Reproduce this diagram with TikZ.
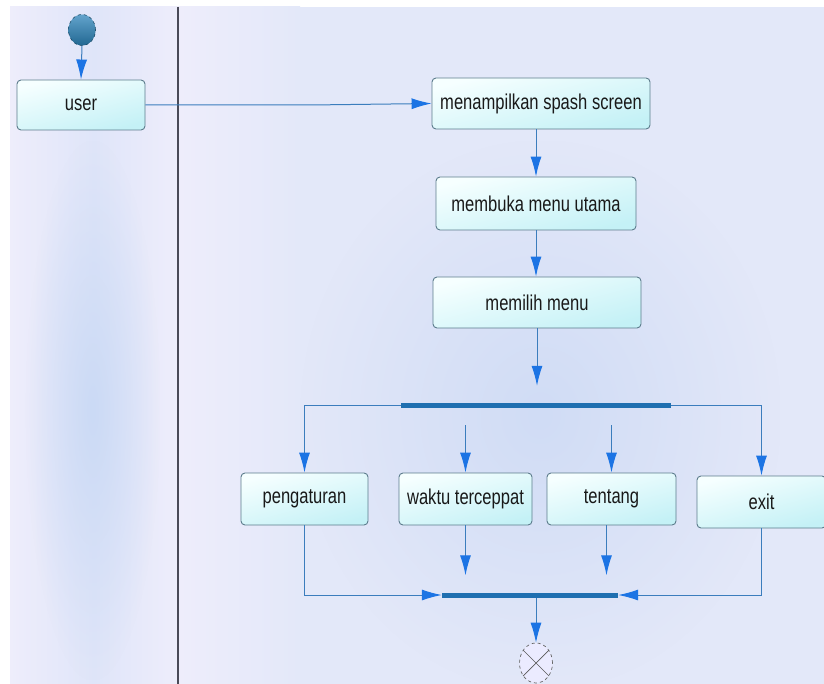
\documentclass[tikz,border=0pt]{standalone}
\usepackage{fontspec}
\setmainfont[FakeStretch=0.77]{Liberation Sans}
\usetikzlibrary{arrows.meta,shapes.geometric,fadings}
\tikzfading[name=myglow, inner color=transparent!0, outer color=transparent!100]
\definecolor{bgc}{HTML}{E3E8F9}
\definecolor{bgl}{HTML}{EEEDFB}
\definecolor{bgm}{HTML}{D0DCF5}
\definecolor{lanem}{HTML}{DFE5F9}
\definecolor{laneblob}{HTML}{CBDAF5}
\definecolor{lanec}{HTML}{4A4A58}
\definecolor{boxedge}{HTML}{5C7C8C}
\definecolor{boxtop}{HTML}{F6FFFF}
\definecolor{boxbot}{HTML}{C4F1F6}
\definecolor{linec}{HTML}{3B7DBD}
\definecolor{tipc}{HTML}{1C74E4}
\definecolor{barc}{HTML}{1F6FB0}
\definecolor{startt}{HTML}{62A3CC}
\definecolor{startb}{HTML}{226892}
\tikzset{
  actbox/.style={draw=boxedge, line width=0.9pt, rounded corners=4pt,
    top color=boxtop, bottom color=boxbot, shading angle=15,
    inner sep=0pt, font=\fontsize{21.5}{24}\selectfont, text=black!90},
  syncbar/.style={fill=barc, draw=none, minimum height=5pt, inner sep=0pt},
  flow/.style={draw=linec, line width=1pt,
    -{Latex[length=20pt,width=11pt,color=tipc]}},
}
\begin{document}
\begin{tikzpicture}[x=1pt,y=-1pt]
\useasboundingbox (0,0) rectangle (824,684);
% background
\fill[white] (0,0) rectangle (824,684);
\fill[bgc] (10,7) rectangle (824,684);
\shade[left color=bgl, right color=bgc] (178,7) rectangle (300,684);
\fill[bgm, path fading=myglow] (300,140) rectangle (780,690);
\shade[left color=bgl, right color=bgl, middle color=lanem] (10,7) rectangle (178,684);
\fill[laneblob, path fading=myglow] (25,140) rectangle (160,680);
\draw[lanec, line width=1.5pt] (178,7) -- (178,684);

% nodes
\node[ellipse, draw=startb!70!black, dashed, line width=0.6pt, top color=startt, bottom color=startb,
      minimum width=27pt, minimum height=31pt, inner sep=0pt] (start) at (82,30) {};
\node[actbox, minimum width=128pt, minimum height=50pt] (user) at (81,105) {user};
\node[actbox, minimum width=218pt, minimum height=51pt] (tampil) at (541,103.5) {menampilkan spash screen};
\node[actbox, minimum width=200pt, minimum height=53pt] (buka) at (536,203.5) {membuka menu utama};
\node[actbox, minimum width=208pt, minimum height=51pt] (pilih) at (537,302.5) {memilih menu};
\node[syncbar, minimum width=270pt] (fork) at (536,405.5) {};
\node[actbox, minimum width=127pt, minimum height=52pt] (peng) at (304.5,499) {pengaturan};
\node[actbox, minimum width=133pt, minimum height=52pt] (waktu) at (465.5,499) {waktu terceppat};
\node[actbox, minimum width=129pt, minimum height=52pt] (tentang) at (611.5,499) {tentang};
\node[actbox, minimum width=129pt, minimum height=52pt] (exit) at (761.5,502) {exit};
\node[syncbar, minimum width=176pt] (join) at (530,595) {};
\node[ellipse, draw=black!60, dashed, line width=0.7pt, fill=white!92!blue,
      minimum width=33pt, minimum height=40pt, inner sep=0pt] (stop) at (536,663) {};
\draw[black!65, line width=0.7pt] (stop.45) -- (stop.225) (stop.135) -- (stop.315);

% connectors
\draw[flow] (start.south) -- (user.north);
\draw[flow] (user.east) -- ++(165,0) -- (tampil.west);
\draw[flow] (tampil.south -| buka.north) -- (buka.north);
\draw[flow] (buka.south) -- (buka.south |- pilih.north);
\draw[flow, shorten >=17pt] (pilih.south) -- (pilih.south |- fork.north);
\draw[flow] (fork.west) -| (peng.north);
\draw[flow] (fork.east) -| (exit.north);
\draw[flow, shorten <=17pt] (waktu.north |- fork.south) -- (waktu.north);
\draw[flow, shorten <=17pt] (tentang.north |- fork.south) -- (tentang.north);
\draw[flow] (peng.south) |- (join.west);
\draw[flow] (exit.south) |- (join.east);
\draw[flow, shorten >=17pt] (waktu.south) -- (waktu.south |- join.north);
\draw[flow, shorten >=17pt] ([xshift=-5pt]tentang.south) -- ([xshift=-5pt]tentang.south |- join.north);
\draw[flow] (join.south -| stop.north) -- (stop.north);
\end{tikzpicture}
\end{document}
